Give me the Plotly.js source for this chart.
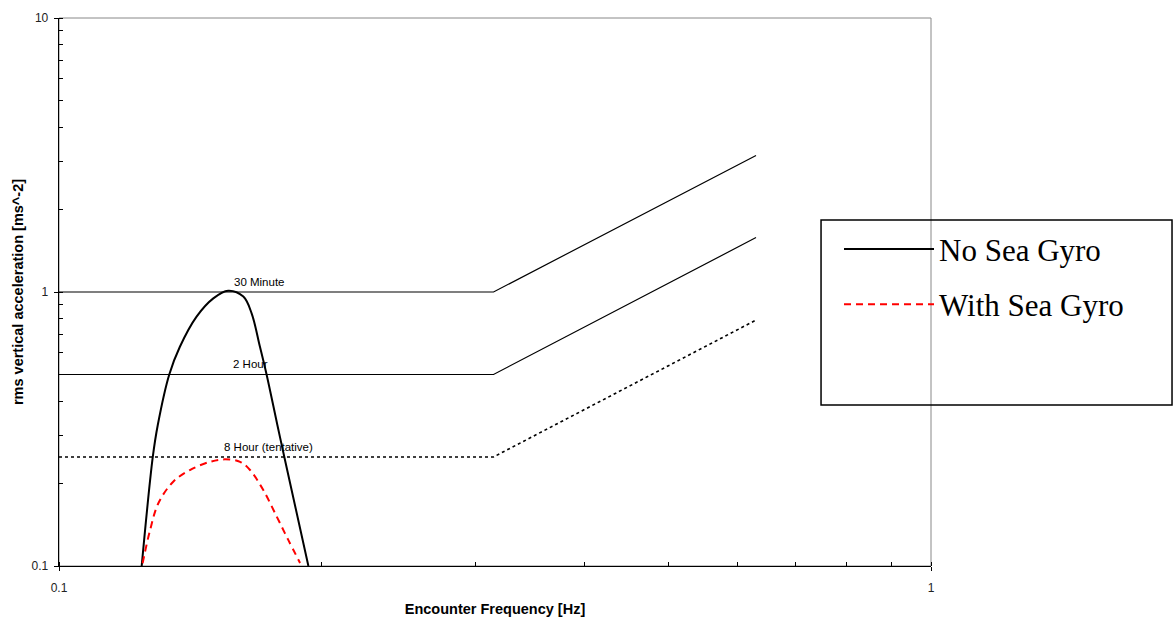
<!DOCTYPE html>
<html>
<head>
<meta charset="utf-8">
<script src="https://cdn.plot.ly/plotly-3.0.1.min.js"></script>
<style>html,body{margin:0;padding:0;background:#fff;}#chart{width:1175px;height:623px;}</style>
</head>
<body>
<div id="chart"></div>
<script>
// Comfort boundary curves, frequency in Hz, acceleration in m/s^2
const boundaryFreq = [0.1, 0.315, 0.63];
const thirtyMinute = [1.0, 1.0, 3.15];
const twoHour = [0.5, 0.5, 1.58];
const eightHour = [0.25, 0.25, 0.79];

// No Sea Gyro response
const noGyroFreq = [0.1244, 0.1281, 0.1298, 0.1338, 0.1376, 0.1438, 0.1503, 0.1563, 0.1627, 0.1663, 0.170, 0.173, 0.1780, 0.1813, 0.1932];
const noGyroAcc  = [0.100, 0.250, 0.327, 0.500, 0.631, 0.813, 0.948, 1.011, 0.962, 0.836, 0.631, 0.500, 0.327, 0.250, 0.100];

// With Sea Gyro response
const gyroFreq = [0.1247, 0.1272, 0.1300, 0.1352, 0.1413, 0.1490, 0.1550, 0.1613, 0.1656, 0.1715, 0.1777, 0.1832, 0.1890];
const gyroAcc  = [0.1023, 0.1353, 0.1694, 0.2031, 0.2240, 0.2400, 0.2450, 0.2400, 0.2240, 0.1894, 0.1514, 0.1245, 0.1026];

// Tick labels
const xTickVals = [0.1, 1];
const xTickText = ['0.1', '1'];
const xMinorVals = [0.1, 0.2, 0.3, 0.4, 0.5, 0.6, 0.7, 0.8, 0.9, 1];
const yTickVals = [0.1, 1, 10];
const yTickText = ['0.1', '1', '10'];
const yMinorVals = [0.1, 0.2, 0.3, 0.4, 0.5, 0.6, 0.7, 0.8, 0.9, 1, 2, 3, 4, 5, 6, 7, 8, 9, 10];

// Boundary labels
const labelText = ['30 Minute', '2 Hour', '8 Hour (tentative)'];
const labelX = [0.170, 0.1656, 0.174];
const labelY = [1.0, 0.5, 0.25];

const traces = [
  {x: boundaryFreq, y: thirtyMinute, mode: 'lines', line: {color: '#000', width: 1.2}, showlegend: false, hoverinfo: 'skip'},
  {x: boundaryFreq, y: twoHour, mode: 'lines', line: {color: '#000', width: 1.2}, showlegend: false, hoverinfo: 'skip'},
  {x: boundaryFreq, y: eightHour, mode: 'lines', line: {color: '#000', width: 1.6, dash: 'dot'}, showlegend: false, hoverinfo: 'skip'},
  {x: noGyroFreq, y: noGyroAcc, mode: 'lines', name: 'No Sea Gyro', legendgroup: 'a', line: {color: '#000', width: 2, shape: 'spline', smoothing: 1}},
  {x: gyroFreq, y: gyroAcc, mode: 'lines', name: 'With Sea Gyro', legendgroup: 'b', line: {color: '#ff0000', width: 2, dash: '7px,5px', shape: 'spline', smoothing: 1}}
];

const annotations = labelText.map((t, i) => ({
  x: Math.log10(labelX[i]), y: Math.log10(labelY[i]), xref: 'x', yref: 'y',
  text: t, showarrow: false, xanchor: 'center', yanchor: 'bottom', yshift: 2,
  font: {family: 'Liberation Sans, Arial, sans-serif', size: 11.5, color: '#000'}
}));

const layout = {
  width: 1175, height: 623,
  margin: {l: 59, r: 244, t: 18, b: 57, pad: 0},
  paper_bgcolor: '#fff', plot_bgcolor: '#fff',
  font: {family: 'Liberation Sans, Arial, sans-serif', size: 12, color: '#000'},
  xaxis: {
    type: 'log', range: [-1, 0], tickvals: xTickVals, ticktext: xTickText,
    ticks: 'outside', ticklen: 4, tickcolor: '#000', showgrid: false, zeroline: false,
    minor: {tickvals: xMinorVals, ticks: 'inside', ticklen: 4, tickcolor: '#000', showgrid: false},
    showline: true, linecolor: '#000', linewidth: 1.3,
    tickfont: {size: 12, color: '#222'}, ticklabelstandoff: 6,
    title: {text: '<b>Encounter Frequency [Hz]</b>', font: {size: 14.5, color: '#000'}, standoff: 10}
  },
  yaxis: {
    type: 'log', range: [-1, 1], tickvals: yTickVals, ticktext: yTickText,
    ticks: 'outside', ticklen: 4, tickcolor: '#000', showgrid: false, zeroline: false,
    minor: {tickvals: yMinorVals, ticks: 'inside', ticklen: 4, tickcolor: '#000', showgrid: false},
    showline: true, linecolor: '#000', linewidth: 1.3,
    tickfont: {size: 12, color: '#222'}, ticklabelstandoff: 3,
    title: {text: '<b>rms vertical acceleration [ms^-2]</b>', font: {size: 14.5, color: '#000'}, standoff: 4}
  },
  showlegend: true,
  legend: {
    x: 0.8945, xanchor: 'left', y: 0.627, yanchor: 'top',
    bgcolor: 'rgba(0,0,0,0)', borderwidth: 0,
    font: {family: 'Liberation Serif, Times New Roman, serif', size: 31, color: '#000'},
    itemwidth: 90, tracegroupgap: 12, traceorder: 'grouped'
  },
  shapes: [
    {type: 'rect', xref: 'paper', yref: 'paper', x0: 0, x1: 1, y0: 0, y1: 1, line: {color: '#888', width: 1}, layer: 'below'},
    {type: 'rect', xref: 'paper', yref: 'paper', x0: 0.8739, x1: 1.2764, y0: 0.2938, y1: 0.6314, line: {color: '#000', width: 1.5}, fillcolor: 'rgba(0,0,0,0)'}
  ],
  annotations: annotations
};

Plotly.newPlot('chart', traces, layout, {displayModeBar: false, staticPlot: true});
</script>
</body>
</html>
